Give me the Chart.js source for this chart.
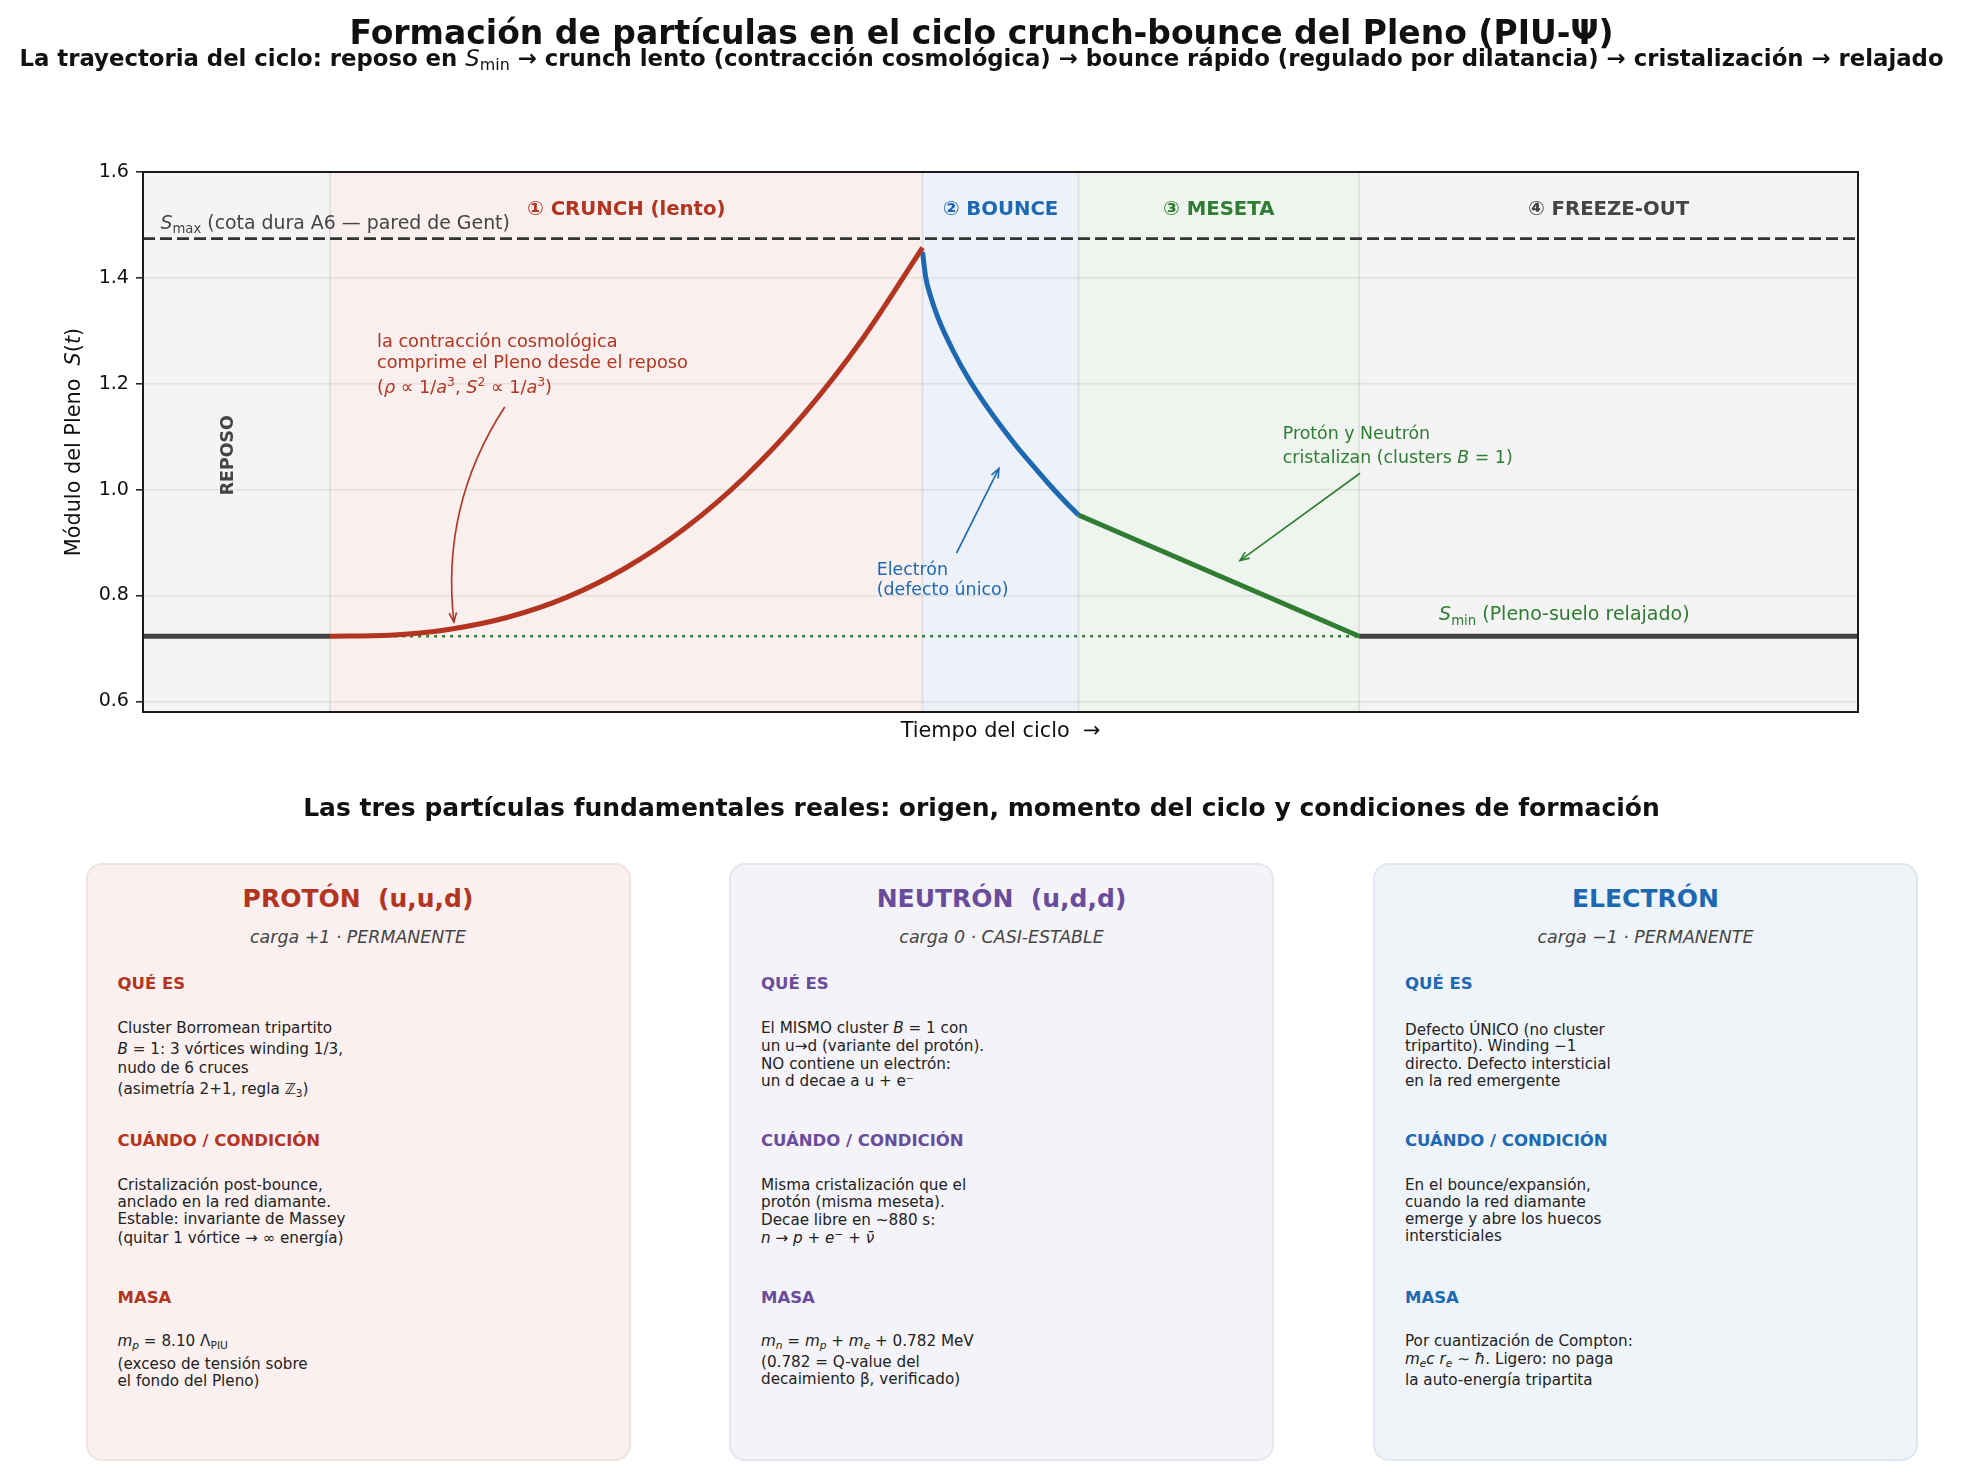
<!DOCTYPE html>
<html>
<head>
<meta charset="utf-8">
<script src="https://cdn.jsdelivr.net/npm/chart.js@4.4.1/dist/chart.umd.min.js"></script>
<style>
  html, body { margin: 0; padding: 0; background: #fff; }
  body { width: 1963px; height: 1477px; overflow: hidden; position: relative; font-family: "DejaVu Sans", sans-serif; color: #111; }
  .ln { position: absolute; line-height: 0; white-space: nowrap; }
  .ctr { left: 0; width: 100%; text-align: center; }
  sub, sup { vertical-align: baseline; position: relative; font-size: 0.7em; line-height: 0; }
  sub { top: 0.28em; }
  sup { top: -0.45em; }
  #chart { position: absolute; left: 0; top: 0; display: block; }
  .card { position: absolute; top: 862.5px; width: 545px; height: 598px; box-sizing: border-box; border-radius: 16px; border: 2px solid; }
</style>
</head>
<body>
<canvas id="chart" width="1963" height="760"></canvas>
<div class="ln ctr" style="top:32.5px;font-size:33px;font-weight:bold;">Formación de partículas en el ciclo crunch-bounce del Pleno (PIU-Ψ)</div>
<div class="ln ctr" style="top:58px;font-size:22.8px;font-weight:bold;">La trayectoria del ciclo: reposo en <span style="font-weight:normal"><i>S</i><sub>min</sub></span> → crunch lento (contracción cosmológica) → bounce rápido (regulado por dilatancia) → cristalización → relajado</div>
<div class="ln ctr" style="top:808px;font-size:25px;font-weight:bold;">Las tres partículas fundamentales reales: origen, momento del ciclo y condiciones de formación</div>
<div id="cards"></div>
<script>
const $ = (id) => document.getElementById(id);

// ---- chart values ----
const Smin = 0.723;
const Smax = 1.474;
const xRange = [0, 11];
const yRange = [0.58, 1.6];
const yTicks = [0.6, 0.8, 1.0, 1.2, 1.4, 1.6];
const yTickLabels = ["0.6", "0.8", "1.0", "1.2", "1.4", "1.6"];

const phaseEdges = [0, 1.2, 5.0, 6.0, 7.8, 11];
const phaseLabels = ["", "① CRUNCH (lento)", "② BOUNCE", "③ MESETA", "④ FREEZE-OUT"];

const restLeftX = [0, 1.2];
const restRightX = [7.8, 11];
const floorX = [1.2, 7.8];

const crunchX = [1.2, 1.58, 1.96, 2.34, 2.72, 3.10, 3.48, 3.86, 4.24, 4.62, 5.0];
const crunchY = [0.723, 0.725, 0.736, 0.759, 0.797, 0.853, 0.928, 1.024, 1.143, 1.287, 1.457];

const bounceX = [5.0, 5.02, 5.05, 5.1, 5.2, 5.3, 5.4, 5.5, 5.6, 5.7, 5.8, 5.9, 6.0];
const bounceY = [1.449, 1.402, 1.367, 1.324, 1.260, 1.207, 1.162, 1.121, 1.083, 1.048, 1.014, 0.982, 0.952];

const mesetaX = [6.0, 7.8];
const mesetaY = [0.952, 0.723];

// ---- styles ----
const FONT = '"DejaVu Sans"';
const RED = "#b3341f";
const BLUE = "#1d68b2";
const GREEN = "#2e7d32";
const GRAY = "#444";
const PURPLE = "#6a4c9c";
const phaseFill = ["#f4f4f4", "#f8efee", "#edf2f9", "#eff4ee", "#f4f4f4"];
const phaseInk = [GRAY, RED, BLUE, GREEN, GRAY];

const pts = (xs, ys) => xs.map((x, i) => ({ x, y: ys[i] }));
const flat = (xs, v) => xs.map((x) => ({ x, y: v }));

// text notes anchored in data coordinates, line offsets in px
const notes = [
  { x: 0.112, y: 1.493, size: 18.9, color: GRAY, dy: [0], lines: [[["S", "i"], ["max", "sub"], [" (cota dura A6 — pared de Gent)", "r"]]] },
  { x: 8.313, y: 0.753, size: 19.0, color: GREEN, dy: [0], lines: [[["S", "i"], ["min", "sub"], [" (Pleno-suelo relajado)", "r"]]] },
  {
    x: 1.501, y: 1.269, size: 17.7, color: RED, dy: [0, 21, 46],
    lines: [
      [["la contracción cosmológica", "r"]],
      [["comprime el Pleno desde el reposo", "r"]],
      [["(", "r"], ["ρ", "i"], [" ∝ 1/", "r"], ["a", "i"], ["3", "sup"], [", ", "r"], ["S", "i"], ["2", "sup"], [" ∝ 1/", "r"], ["a", "i"], ["3", "sup"], [")", "r"]],
    ],
  },
  { x: 4.706, y: 0.839, size: 17.4, color: BLUE, dy: [0, 20], lines: [[["Electrón", "r"]], [["(defecto único)", "r"]]] },
  {
    x: 7.31, y: 1.095, size: 17.4, color: GREEN, dy: [0, 24],
    lines: [[["Protón y Neutrón", "r"]], [["cristalizan (clusters ", "r"], ["B", "i"], [" = 1)", "r"]]],
  },
];

const arrows = [
  { from: { x: 2.32, y: 1.156 }, to: { x: 1.994, y: 0.75 }, bend: 0.18, color: RED },
  { from: { x: 5.218, y: 0.88 }, to: { x: 5.49, y: 1.04 }, bend: 0, color: BLUE },
  { from: { x: 7.806, y: 1.031 }, to: { x: 7.036, y: 0.866 }, bend: 0, color: GREEN },
];

function partFont(kind, size, bold) {
  const small = kind === "sub" || kind === "sup";
  const px = small ? size * 0.7 : size;
  return `${kind === "i" ? "italic " : ""}${bold ? "bold " : ""}${px}px ${FONT}`;
}

function partShift(kind, size) {
  if (kind === "sub") return size * 0.22;
  if (kind === "sup") return -size * 0.4;
  return 0;
}

function richWidth(ctx, parts, size, bold) {
  let w = 0;
  for (const [t, k] of parts) {
    ctx.font = partFont(k, size, bold);
    w += ctx.measureText(t).width;
  }
  return w;
}

function drawRich(ctx, parts, x, y, size, color, align, bold) {
  let cx = align === "center" ? x - richWidth(ctx, parts, size, bold) / 2 : x;
  ctx.fillStyle = color;
  ctx.textAlign = "left";
  ctx.textBaseline = "alphabetic";
  for (const [t, k] of parts) {
    ctx.font = partFont(k, size, bold);
    ctx.fillText(t, cx, y + partShift(k, size));
    cx += ctx.measureText(t).width;
  }
}

function drawArrow(ctx, x0, y0, x1, y1, bend, color) {
  const mx = (x0 + x1) / 2, my = (y0 + y1) / 2;
  const cx = mx - bend * (y1 - y0), cy = my + bend * (x1 - x0);
  ctx.save();
  ctx.strokeStyle = color;
  ctx.lineWidth = 1.6;
  ctx.beginPath();
  ctx.moveTo(x0, y0);
  ctx.quadraticCurveTo(cx, cy, x1, y1);
  ctx.stroke();
  const ang = Math.atan2(y1 - cy, x1 - cx);
  const hl = 10, spread = 0.38;
  ctx.beginPath();
  ctx.moveTo(x1 - hl * Math.cos(ang - spread), y1 - hl * Math.sin(ang - spread));
  ctx.lineTo(x1, y1);
  ctx.lineTo(x1 - hl * Math.cos(ang + spread), y1 - hl * Math.sin(ang + spread));
  ctx.stroke();
  ctx.restore();
}

const phasePlugin = {
  id: "phases",
  beforeDraw(chart) {
    const { ctx, chartArea: a, scales: { x } } = chart;
    ctx.save();
    for (let i = 0; i < phaseFill.length; i++) {
      const x0 = x.getPixelForValue(phaseEdges[i]);
      const x1 = x.getPixelForValue(phaseEdges[i + 1]);
      ctx.fillStyle = phaseFill[i];
      ctx.fillRect(x0, a.top, x1 - x0, a.bottom - a.top);
    }
    ctx.strokeStyle = "rgba(0,0,0,0.08)";
    ctx.lineWidth = 2;
    for (const e of phaseEdges.slice(1, -1)) {
      const px = x.getPixelForValue(e);
      ctx.beginPath();
      ctx.moveTo(px, a.top);
      ctx.lineTo(px, a.bottom);
      ctx.stroke();
    }
    ctx.restore();
  },
  afterDraw(chart) {
    const { ctx, chartArea: a, scales: { x, y } } = chart;
    ctx.save();

    // phase headings
    for (let i = 0; i < phaseLabels.length; i++) {
      if (!phaseLabels[i]) continue;
      const cx = x.getPixelForValue((phaseEdges[i] + phaseEdges[i + 1]) / 2);
      drawRich(ctx, [[phaseLabels[i], "r"]], cx, y.getPixelForValue(1.518), 19.7, phaseInk[i], "center", true);
    }

    // REPOSO, rotated
    ctx.save();
    ctx.translate(x.getPixelForValue(0.55), y.getPixelForValue(1.065));
    ctx.rotate(-Math.PI / 2);
    ctx.font = `bold 17.4px ${FONT}`;
    ctx.fillStyle = GRAY;
    ctx.textAlign = "center";
    ctx.textBaseline = "middle";
    ctx.fillText("REPOSO", 0, 0);
    ctx.restore();

    for (const n of notes) {
      const px = x.getPixelForValue(n.x), py = y.getPixelForValue(n.y);
      n.lines.forEach((parts, i) => drawRich(ctx, parts, px, py + n.dy[i], n.size, n.color, "left"));
    }

    for (const ar of arrows) {
      drawArrow(ctx,
        x.getPixelForValue(ar.from.x), y.getPixelForValue(ar.from.y),
        x.getPixelForValue(ar.to.x), y.getPixelForValue(ar.to.y),
        ar.bend, ar.color);
    }

    // spines
    ctx.strokeStyle = "#1a1a1a";
    ctx.lineWidth = 2;
    ctx.strokeRect(a.left, a.top, a.right - a.left, a.bottom - a.top);

    // axis titles
    drawRich(ctx, [["Tiempo del ciclo  →", "r"]], (a.left + a.right) / 2, a.bottom + 25, 20.8, "#111", "center");
    ctx.save();
    ctx.translate(80, (a.top + a.bottom) / 2);
    ctx.rotate(-Math.PI / 2);
    drawRich(ctx, [["Módulo del Pleno  ", "r"], ["S", "i"], ["(", "r"], ["t", "i"], [")", "r"]], 0, 0, 20.8, "#111", "center");
    ctx.restore();

    ctx.restore();
  },
};

new Chart($("chart"), {
  type: "line",
  data: {
    datasets: [
      { data: pts(crunchX, crunchY), borderColor: RED, borderWidth: 5, cubicInterpolationMode: "monotone", order: 1 },
      { data: pts(bounceX, bounceY), borderColor: BLUE, borderWidth: 5, cubicInterpolationMode: "monotone", order: 1 },
      { data: pts(mesetaX, mesetaY), borderColor: GREEN, borderWidth: 5, order: 1 },
      { data: flat(restLeftX, Smin), borderColor: GRAY, borderWidth: 5, order: 2 },
      { data: flat(restRightX, Smin), borderColor: GRAY, borderWidth: 5, order: 2 },
      { data: flat(floorX, Smin), borderColor: GREEN, borderWidth: 2.6, borderDash: [3, 5], order: 3 },
      { data: flat(xRange, Smax), borderColor: "#333", borderWidth: 2.8, borderDash: [12, 5], order: 3 },
    ],
  },
  options: {
    responsive: false,
    animation: false,
    devicePixelRatio: 1,
    layout: { padding: { left: 0, top: 172, right: 105, bottom: 28 } },
    elements: { point: { radius: 0, hoverRadius: 0 }, line: { fill: false } },
    plugins: { legend: { display: false }, tooltip: { enabled: false } },
    events: [],
    scales: {
      x: {
        type: "linear",
        min: xRange[0],
        max: xRange[1],
        grid: { display: false },
        border: { display: false },
        ticks: { display: false },
        afterFit: (s) => { s.height = 20; },
      },
      y: {
        type: "linear",
        min: yRange[0],
        max: yRange[1],
        afterBuildTicks: (s) => { s.ticks = yTicks.map((v) => ({ value: v })); },
        afterFit: (s) => { s.width = 143; },
        grid: { color: "rgba(0,0,0,0.07)", lineWidth: 1.6, tickLength: 7, tickColor: "#222", tickWidth: 1.6 },
        border: { display: false },
        ticks: {
          padding: 7,
          color: "#111",
          font: { family: "DejaVu Sans", size: 19.1 },
          callback: (v) => yTickLabels[yTicks.indexOf(v)] ?? "",
        },
      },
    },
  },
  plugins: [phasePlugin],
});

// ---- particle cards ----
const cardLefts = [85.5, 729, 1373];
const headBase = [125.7, 282.7, 438.8];
const heads = ["QUÉ ES", "CUÁNDO / CONDICIÓN", "MASA"];

const cards = [
  {
    name: "PROTÓN&nbsp;&nbsp;(u,u,d)", sub: "carga +1 · PERMANENTE", ink: RED, bg: "#f9f0ef", edge: "#f1e3e1",
    blocks: [
      ["Cluster Borromean tripartito", "<i>B</i> = 1: 3 vórtices winding 1/3,", "nudo de 6 cruces", "(asimetría 2+1, regla ℤ<sub>3</sub>)"],
      ["Cristalización post-bounce,", "anclado en la red diamante.", "Estable: invariante de Massey", "(quitar 1 vórtice → ∞ energía)"],
      ["<i>m<sub>p</sub></i> = 8.10 Λ<sub>PIU</sub>", "(exceso de tensión sobre", "el fondo del Pleno)"],
    ],
    base: [[168.4, 189.8, 208.7, 229.3], [326.1, 342.7, 359.7, 378.7], [481.4, 505.2, 521.8]],
  },
  {
    name: "NEUTRÓN&nbsp;&nbsp;(u,d,d)", sub: "carga 0 · CASI-ESTABLE", ink: PURPLE, bg: "#f4f3f8", edge: "#e7e5ef",
    blocks: [
      ["El MISMO cluster <i>B</i> = 1 con", "un u→d (variante del protón).", "NO contiene un electrón:", "un d decae a u + e⁻"],
      ["Misma cristalización que el", "protón (misma meseta).", "Decae libre en ~880 s:", "<i>n</i> → <i>p</i> + <i>e</i><sup>−</sup> + <i>ν̄</i>"],
      ["<i>m<sub>n</sub></i> = <i>m<sub>p</sub></i> + <i>m<sub>e</sub></i> + 0.782 MeV", "(0.782 = Q-value del", "decaimiento β, verificado)"],
    ],
    base: [[169.2, 187, 205.2, 222.2], [326.1, 343, 360.9, 378.7], [481.4, 503.2, 520.2]],
  },
  {
    name: "ELECTRÓN", sub: "carga −1 · PERMANENTE", ink: BLUE, bg: "#eff4f9", edge: "#dfe8f2",
    blocks: [
      ["Defecto ÚNICO (no cluster", "tripartito). Winding −1", "directo. Defecto intersticial", "en la red emergente"],
      ["En el bounce/expansión,", "cuando la red diamante", "emerge y abre los huecos", "intersticiales"],
      ["Por cuantización de Compton:", "<i>m<sub>e</sub>c r<sub>e</sub></i> ∼ <i>ħ</i>. Ligero: no paga", "la auto-energía tripartita"],
    ],
    base: [[171.2, 187, 205.2, 222.2], [325.3, 342.3, 359.7, 376.7], [481.4, 500, 521]],
  },
];

function line(html, baseline, size, extra) {
  const d = document.createElement("div");
  d.className = "ln";
  d.style.top = `${baseline - 0.346 * size}px`;
  d.style.fontSize = `${size}px`;
  d.style.cssText += extra || "";
  d.innerHTML = html;
  return d;
}

cards.forEach((c, i) => {
  const el = document.createElement("div");
  el.className = "card";
  el.style.left = `${cardLefts[i]}px`;
  el.style.background = c.bg;
  el.style.borderColor = c.edge;
  el.appendChild(line(c.name, 42.7, 25, `left:0;width:100%;text-align:center;font-weight:bold;color:${c.ink};`));
  el.appendChild(line(c.sub, 78.4, 17.4, "left:0;width:100%;text-align:center;font-style:italic;color:#444;"));
  heads.forEach((h, k) => {
    el.appendChild(line(h, headBase[k], 16.5, `left:30px;font-weight:bold;color:${c.ink};`));
    c.blocks[k].forEach((t, j) => el.appendChild(line(t, c.base[k][j], 15.2, "left:30px;color:#222;")));
  });
  $("cards").appendChild(el);
});
</script>
</body>
</html>
